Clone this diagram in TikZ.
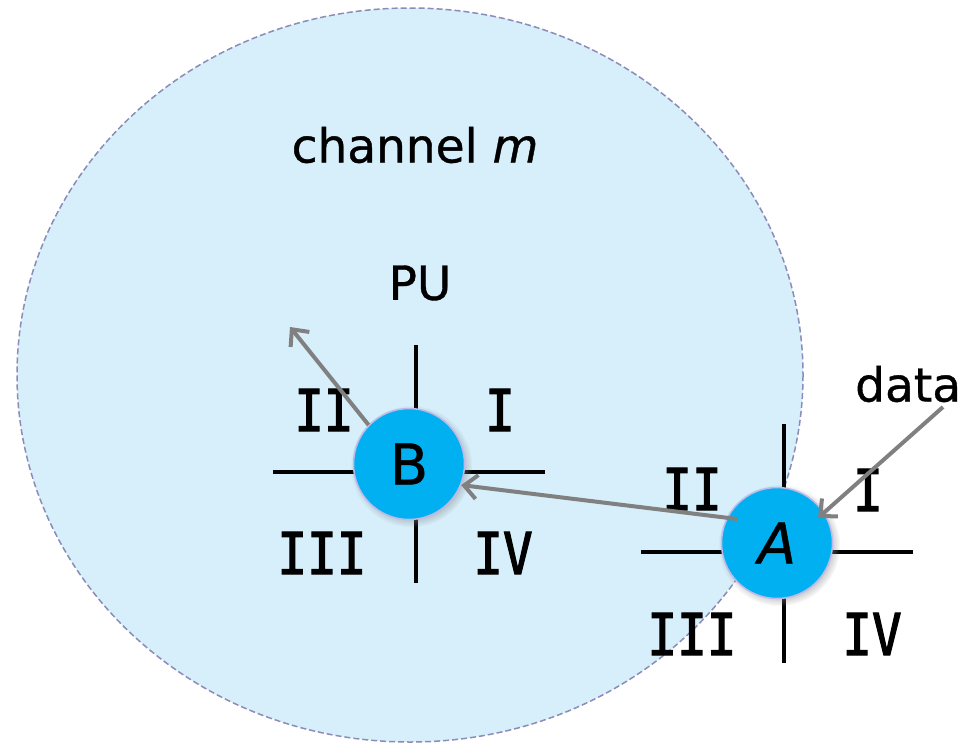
\documentclass[tikz,border=0pt]{standalone}
\usepackage{fontspec}
\setmainfont[FakeBold=0.8]{DejaVu Sans}
\newfontfamily\numfont[FakeStretch=0.85,FakeBold=2]{DejaVu Sans Mono}
\usetikzlibrary{arrows.meta,shadows,calc}
\definecolor{zonefill}{RGB}{214,239,251}
\definecolor{zoneline}{RGB}{140,140,185}
\definecolor{nodefill}{RGB}{0,176,240}
\definecolor{nodeline}{RGB}{190,185,235}
\definecolor{arrgray}{RGB}{128,128,128}
\tikzset{
  su/.style={circle,minimum size=111pt,inner sep=0pt,fill=nodefill,draw=nodeline,line width=1.5pt,
     circular drop shadow={shadow xshift=2pt,shadow yshift=-2pt,fill=black!45,opacity=0.45},
     font=\fontsize{56}{60}\selectfont},
  quad/.style={inner sep=0pt,font=\numfont\fontsize{58}{62}\selectfont},
  lbl/.style={inner sep=0pt,font=\fontsize{47}{52}\selectfont},
  axis/.style={line width=4.5pt,black},
  arr/.style={line width=4pt,arrgray,-{Straight Barb[length=13pt,width=24pt,line width=4pt]}}
}
\begin{document}
\begin{tikzpicture}[x=1pt,y=-1pt]
\useasboundingbox (0,0) rectangle (979,744);
\draw[fill=zonefill,draw=zoneline,dash pattern=on 6pt off 3pt,line width=1.5pt] (410,375) ellipse [x radius=393, y radius=367];
% text labels
\node[lbl] (ch) at (415,145) {channel \textit{m}};
\node[lbl] (pu) at (420,283) {PU};
\node[lbl,anchor=west] (data) at (855,384) {data};
% B quadrants
\draw[axis] (416,345) -- (416,583);
\draw[axis] (273,472) -- (545,472);
\node[quad] (b2) at (324,410) {II};
\node[quad] (b1) at (500,410) {I};
\node[quad] (b3) at (322,553) {III};
\node[quad] (b4) at (503,553) {IV};
% A quadrants
\draw[axis] (784,424) -- (784,663);
\draw[axis] (641,552) -- (913,552);
\node[quad] (a2) at (692,489) {II};
\node[quad] (a1) at (868,490) {I};
\node[quad] (a3) at (692,634) {III};
\node[quad] (a4) at (872,634) {IV};
% nodes
\node[su] (B) at (409,464) {B};
\node[su] (A) at (777,543) {\textit{A}};
% arrows
\coordinate (bout) at (290,327);
\coordinate (din) at (943,407);
\draw[arr] ($(A.center)+(-40,-24)$) -- (B.-22);
\draw[arr] (B.136) -- (bout);
\draw[arr] (din) -- ($(A.center)+(41,-25)$);
\end{tikzpicture}
\end{document}
